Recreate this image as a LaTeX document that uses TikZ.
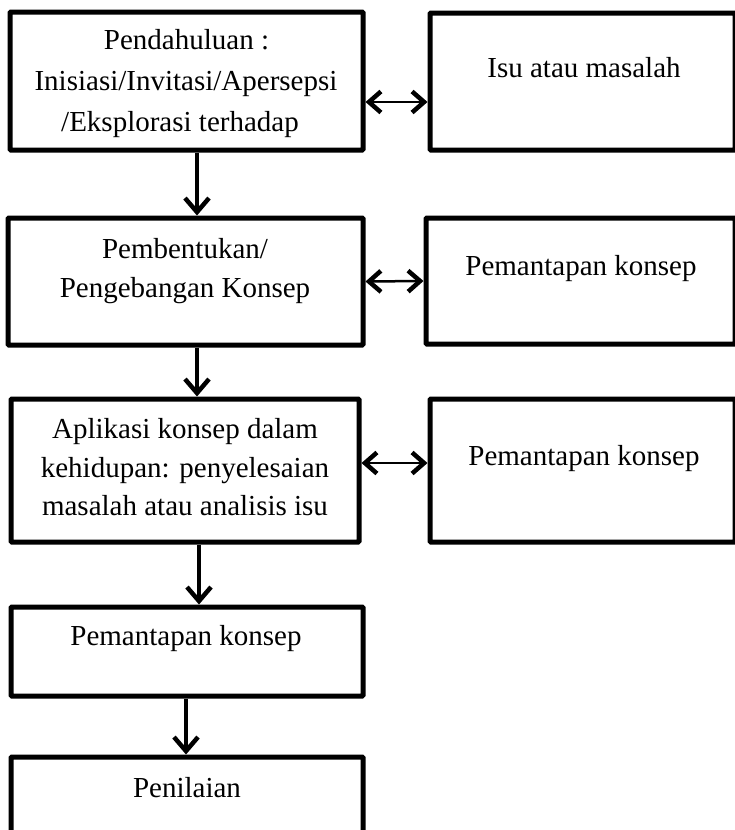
\documentclass[tikz,border=0pt]{standalone}
\usepackage{fontspec}
\setmainfont{Liberation Serif}
\usetikzlibrary{arrows.meta}
\begin{document}
\begin{tikzpicture}[x=1pt,y=-1pt,
  box/.style={draw=black, line width=5pt, rounded corners=1pt, fill=white, inner sep=0pt},
  txt/.style={anchor=base, inner sep=0pt, font=\fontsize{29}{35}\selectfont},
  flow/.style={line width=3.5pt, -{Straight Barb[length=14pt,width=24pt,line width=4.5pt]}},
  link/.style={line width=2.5pt, {Straight Barb[length=12pt,width=21pt,line width=4.5pt]}-{Straight Barb[length=12pt,width=21pt,line width=4.5pt]}}]
\useasboundingbox (0,0) rectangle (735,830);
% boxes
\node[box, minimum width=353pt, minimum height=138pt] (b1) at (186.5,81) {};
\node[box, minimum width=305pt, minimum height=137pt] (r1) at (582.5,81.5) {};
\node[box, minimum width=355pt, minimum height=127pt] (b2) at (185.5,281.5) {};
\node[box, minimum width=309pt, minimum height=126pt] (r2) at (580.5,281) {};
\node[box, minimum width=348pt, minimum height=143pt] (b3) at (185,470.5) {};
\node[box, minimum width=305pt, minimum height=143pt] (r3) at (582.5,470.5) {};
\node[box, minimum width=352pt, minimum height=89pt] (b4) at (187,651.5) {};
\node[box, minimum width=352pt, minimum height=93pt] (b5) at (187,803.5) {};
% texts
\node[txt] (t1a) at (186.5,49) {Pendahuluan :};
\node[txt] (t1b) at (186,90) {Inisiasi/Invitasi/Apersepsi};
\node[txt] (t1c) at (180,131) {/Eksplorasi terhadap};
\node[txt] (tr1) at (584,77) {Isu atau masalah};
\node[txt] (t2a) at (185,258) {Pembentukan/};
\node[txt] (t2b) at (185,297) {Pengebangan Konsep};
\node[txt] (tr2) at (581,275) {Pemantapan konsep};
\node[txt] (t3a) at (185,438) {Aplikasi konsep dalam};
\node[txt] (t3b) at (185,477) {kehidupan: penyelesaian};
\node[txt] (t3c) at (185,515) {masalah atau analisis isu};
\node[txt] (tr3) at (584,465) {Pemantapan konsep};
\node[txt] (t4) at (186,645) {Pemantapan konsep};
\node[txt] (t5) at (187,797) {Penilaian};
% vertical arrows
\draw[flow] ([xshift=10.5pt]b1.south) -- ([xshift=11.5pt]b2.north);
\draw[flow] ([xshift=11.5pt]b2.south) -- ([xshift=12pt]b3.north);
\draw[flow] ([xshift=14pt]b3.south) -- ([xshift=12pt]b4.north);
\draw[flow] ([xshift=-1pt]b4.south) -- ([xshift=-1pt]b5.north);
% horizontal double arrows
\draw[link] ([yshift=-21pt]b1.east) -- ([yshift=-20.5pt]r1.west);
\draw[link] (b2.east) -- (r2.west);
\draw[link] ([yshift=7.5pt]b3.east) -- ([yshift=7.5pt]r3.west);
\end{tikzpicture}
\end{document}
